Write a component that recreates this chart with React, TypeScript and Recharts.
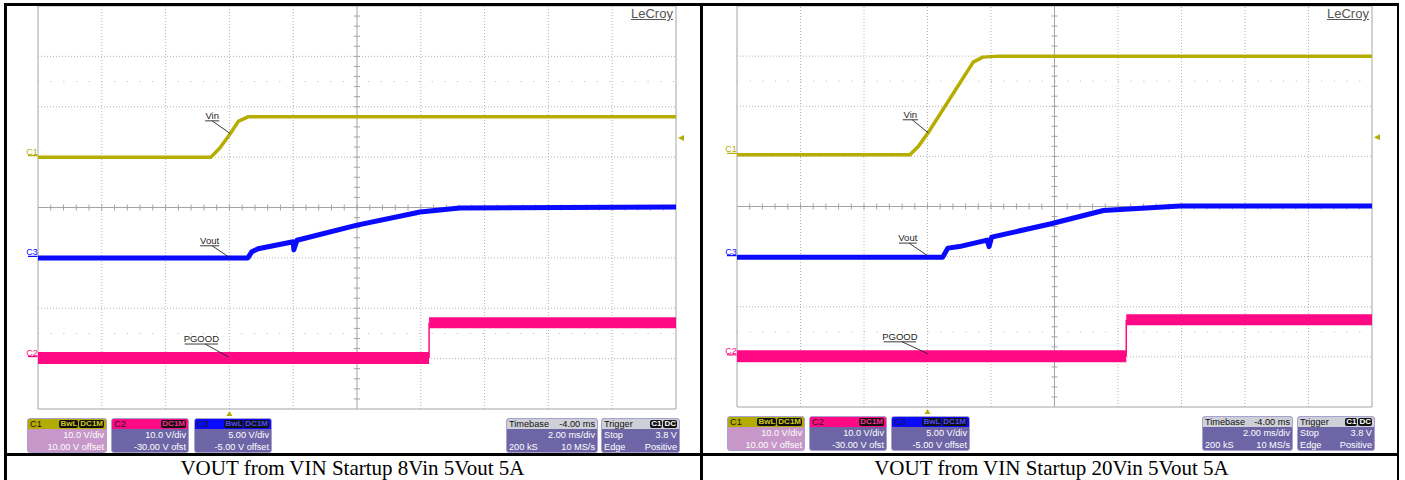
import React from 'react';
import { LineChart, Line, XAxis, YAxis, ReferenceLine, ReferenceDot } from 'recharts';

// ---------- DATA (in screen divisions: time 0..10, volts -4..4) ----------
const TIME_DIVS = [0, 1, 2, 3, 4, 5, 6, 7, 8, 9, 10];
const VOLT_DIVS = [-4, -3, -2, -1, 0, 1, 2, 3, 4];

// Panel A: 8Vin
const aVinT = [0, 2.71, 2.85, 3.01, 3.14, 3.29, 4.5, 10];
const aVinV = [1.0, 1.0, 1.18, 1.46, 1.71, 1.8, 1.8, 1.8];
const aVoutT = [0, 3.29, 3.35, 3.45, 4.0, 4.01, 4.06, 5.0, 5.99, 6.61, 10];
const aVoutV = [-1.0, -1.0, -0.88, -0.82, -0.68, -0.84, -0.65, -0.35, -0.09, -0.01, 0.01];
const aPgoodT = [0, 6.13, 10];
const aPgoodV = [-2.99, -2.29];

// Panel B: 20Vin
const bVinT = [0, 2.72, 2.85, 3.01, 3.72, 3.87, 4.14, 10];
const bVinV = [1.03, 1.03, 1.19, 1.47, 2.88, 2.98, 3.0, 3.0];
const bVoutT = [0, 3.24, 3.32, 3.5, 3.94, 3.97, 4.01, 4.93, 5.77, 6.98, 10];
const bVoutV = [-1.01, -1.01, -0.83, -0.8, -0.67, -0.8, -0.61, -0.35, -0.08, 0.01, 0.01];
const bPgoodT = [0, 6.13, 10];
const bPgoodV = [-2.99, -2.26];

const CHANNEL_OFFSETS_A = { C1: 1.0, C3: -1.0, C2: -2.99 };
const CHANNEL_OFFSETS_B = { C1: 1.03, C3: -1.01, C2: -2.99 };
const TRIGGER_TIME = 3;
const TRIGGER_LEVEL = 1.38;

const captions = ['VOUT from VIN Startup 8Vin 5Vout 5A', 'VOUT from VIN Startup 20Vin 5Vout 5A'];

const chanBoxes = [
  { name: 'C1', head: '#b3ab00', body: '#c697c8', badges: ['BwL', 'DC1M'], badgeColor: '#d4cc10', r1: '10.0 V/div', r2: '10.00 V offset' },
  { name: 'C2', head: '#ff0a84', body: '#6d65a6', badges: ['DC1M'], badgeColor: '#ff2a94', r1: '10.0 V/div', r2: '-30.00 V ofst' },
  { name: 'C3', head: '#0a0aff', body: '#6d65a6', badges: ['BwL', 'DC1M'], badgeColor: '#4a4aff', r1: '5.00 V/div', r2: '-5.00 V offset' },
];

// ---------- helpers ----------
type Pt = { t: number; v: number };
const zip = (ts: number[], vs: number[]): Pt[] => ts.map((t, i) => ({ t, v: vs[i] }));

const YELLOW = '#b5ad00';
const BLUE = '#0a0aff';
const PINK = '#ff0a84';
const GRID = '#b4b4b4';
const FRAME = '#a4a4a4';

type Annot = { text: string; ux1: number; ux2: number; uy: number; lx1: number; lx2: number; ly2: number };

const annA: Annot[] = [
  { text: 'Vin', ux1: 2.62, ux2: 2.84, uy: 1.72, lx1: 2.73, lx2: 3.01, ly2: 1.47 },
  { text: 'Vout', ux1: 2.54, ux2: 2.84, uy: -0.76, lx1: 2.73, lx2: 3.01, ly2: -1.0 },
  { text: 'PGOOD', ux1: 2.3, ux2: 2.82, uy: -2.71, lx1: 2.62, lx2: 2.99, ly2: -2.97 },
];
const annB: Annot[] = [
  { text: 'Vin', ux1: 2.61, ux2: 2.85, uy: 1.73, lx1: 2.76, lx2: 3.01, ly2: 1.47 },
  { text: 'Vout', ux1: 2.55, ux2: 2.83, uy: -0.73, lx1: 2.71, lx2: 3.01, ly2: -0.99 },
  { text: 'PGOOD', ux1: 2.31, ux2: 2.82, uy: -2.7, lx1: 2.6, lx2: 3.01, ly2: -2.94 },
];

type ScopeProps = {
  width: number;
  height: number;
  margin: { top: number; left: number; right: number; bottom: number };
  vin: Pt[];
  vout: Pt[];
  pgT: number[];
  pgV: number[];
  offsets: { C1: number; C2: number; C3: number };
  ann: Annot[];
};

const minorX = Array.from({ length: 49 }, (_, i) => (i + 1) * 0.2);
const minorY = Array.from({ length: 39 }, (_, i) => -4 + (i + 1) * 0.2);

function Scope({ width, height, margin, vin, vout, pgT, pgV, offsets, ann }: ScopeProps) {
  const plotH = height - margin.top - margin.bottom;
  const plotW = width - margin.left - margin.right;
  const pxY = 8 / plotH; // div per px
  const pxX = 10 / plotW;
  const pgLow = [{ t: pgT[0], v: pgV[0] }, { t: pgT[1], v: pgV[0] }];
  const pgHigh = [{ t: pgT[1], v: pgV[1] }, { t: pgT[2], v: pgV[1] }];
  const pgStep = [{ t: pgT[1], v: pgV[0] }, { t: pgT[1], v: pgV[1] }];
  const chan = [
    { n: 'C1', c: YELLOW, v: offsets.C1 },
    { n: 'C3', c: BLUE, v: offsets.C3 },
    { n: 'C2', c: PINK, v: offsets.C2 },
  ];
  return (
    <LineChart width={width} height={height} margin={margin}>
      <XAxis type="number" dataKey="t" domain={[0, 10]} ticks={TIME_DIVS} hide allowDataOverflow />
      <YAxis type="number" domain={[-4, 4]} ticks={VOLT_DIVS} hide allowDataOverflow />
      {TIME_DIVS.filter((d) => d > 0 && d < 10 && d !== 5).map((d) => (
        <ReferenceLine key={'gx' + d} x={d} stroke={GRID} strokeDasharray="1 2" />
      ))}
      {VOLT_DIVS.filter((d) => d > -4 && d < 4 && d !== 0).map((d) => (
        <ReferenceLine key={'gy' + d} y={d} stroke={GRID} strokeDasharray="1 2" />
      ))}
      <ReferenceLine y={2.5} stroke={GRID} strokeDasharray="1 11.7" />
      <ReferenceLine y={-2.5} stroke={GRID} strokeDasharray="1 11.7" />
      <ReferenceLine x={5} stroke={FRAME} />
      <ReferenceLine y={0} stroke={FRAME} />
      {minorX.map((t) => (
        <ReferenceLine key={'tx' + t} segment={[{ x: t, y: -3 * pxY }, { x: t, y: 3 * pxY }]} stroke={FRAME} />
      ))}
      {minorY.map((v) => (
        <ReferenceLine key={'ty' + v} segment={[{ x: 5 - 3 * pxX, y: v }, { x: 5 + 3 * pxX, y: v }]} stroke={FRAME} />
      ))}
      <ReferenceLine x={0} stroke={FRAME} />
      <ReferenceLine x={10} stroke={FRAME} />
      <ReferenceLine y={4} stroke={FRAME} />
      <ReferenceLine y={-4} stroke={FRAME} />

      <Line data={pgLow} dataKey="v" stroke={PINK} strokeWidth={12} dot={false} isAnimationActive={false} />
      <Line data={pgHigh} dataKey="v" stroke={PINK} strokeWidth={11} dot={false} isAnimationActive={false} />
      <Line data={pgStep} dataKey="v" stroke={PINK} strokeWidth={1.5} dot={false} isAnimationActive={false} />
      <Line data={vout} dataKey="v" stroke={BLUE} strokeWidth={5} dot={false} isAnimationActive={false} strokeLinejoin="round" />
      <Line data={vin} dataKey="v" stroke={YELLOW} strokeWidth={3.5} dot={false} isAnimationActive={false} strokeLinejoin="round" />

      {ann.map((a) => (
        <ReferenceLine key={'u' + a.text} segment={[{ x: a.ux1, y: a.uy }, { x: a.ux2, y: a.uy }]} stroke="#222" strokeWidth={0.9} />
      ))}
      {ann.map((a) => (
        <ReferenceLine key={'l' + a.text} segment={[{ x: a.lx1, y: a.uy }, { x: a.lx2, y: a.ly2 }]} stroke="#222" strokeWidth={0.9} />
      ))}
      {ann.map((a) => (
        <ReferenceDot
          key={'t' + a.text}
          x={(a.ux1 + a.ux2) / 2}
          y={a.uy}
          ifOverflow="visible"
          shape={(p: any) => (
            <text x={p.cx} y={p.cy - 2} textAnchor="middle" fontSize={9.5} fontFamily="Liberation Sans, Arial, sans-serif" fill="#222">
              {a.text}
            </text>
          )}
        />
      ))}
      {chan.map((c) => (
        <ReferenceLine
          key={'cm' + c.n}
          segment={[{ x: -10 * pxX, y: c.v + 1.5 * pxY }, { x: -0.5 * pxX, y: c.v + 1.5 * pxY }]}
          stroke={c.c}
          strokeWidth={1.2}
          ifOverflow="visible"
        />
      ))}
      {chan.map((c) => (
        <ReferenceDot
          key={'cl' + c.n}
          x={-6 * pxX}
          y={c.v}
          ifOverflow="visible"
          shape={(p: any) => (
            <text x={p.cx} y={p.cy - 2.5} textAnchor="middle" fontSize={9} fontFamily="Liberation Sans, Arial, sans-serif" fill={c.c}>
              {c.n}
            </text>
          )}
        />
      ))}
      <ReferenceDot
        x={TRIGGER_TIME}
        y={-4}
        ifOverflow="visible"
        shape={(p: any) => (
          <polygon points={`${p.cx - 3},${p.cy + 7} ${p.cx + 3},${p.cy + 7} ${p.cx},${p.cy + 2}`} fill={YELLOW} />
        )}
      />
      <ReferenceDot
        x={10}
        y={TRIGGER_LEVEL}
        ifOverflow="visible"
        shape={(p: any) => (
          <polygon points={`${p.cx + 8},${p.cy - 3} ${p.cx + 8},${p.cy + 3} ${p.cx + 2},${p.cy}`} fill={YELLOW} />
        )}
      />
    </LineChart>
  );
}

const boxFont = 'Liberation Sans, Arial, sans-serif';

function Badge({ text, color }: { text: string; color: string }) {
  return (
    <span style={{ background: '#111', color, fontSize: 8, lineHeight: '8px', padding: '0 1px', borderRadius: 2, marginLeft: 1, fontWeight: 700 }}>
      {text}
    </span>
  );
}

function InfoBox({ x, y, w, head, body, title, headRight, badges, badgeColor, rows, titleColor }: any) {
  return (
    <div
      style={{
        position: 'absolute', left: x, top: y, width: w, height: 35, boxSizing: 'border-box',
        border: '1px solid #a8a2d0', borderRadius: 3, background: body, overflow: 'hidden',
        fontFamily: boxFont, fontSize: 9.2, color: '#fff', whiteSpace: 'nowrap',
      }}
    >
      <div style={{ height: 10, background: head, display: 'flex', justifyContent: 'space-between', alignItems: 'center', padding: '0 2px', color: titleColor, lineHeight: '10px' }}>
        <span>{title}</span>
        <span style={{ display: 'flex' }}>
          {headRight ? <span>{headRight}</span> : null}
          {badges ? badges.map((b: string) => <Badge key={b} text={b} color={badgeColor} />) : null}
        </span>
      </div>
      {rows.map((r: string[], i: number) => (
        <div key={i} style={{ display: 'flex', justifyContent: 'space-between', padding: '0 2px', lineHeight: '12px', height: 12 }}>
          <span>{r[0]}</span>
          <span>{r[1]}</span>
        </div>
      ))}
    </div>
  );
}

function Panel({ ox, boxY, plotRight, chanXs, chanWs, tbX, tbW, trX, trW, caption, cellW }: any) {
  return (
    <>
      {chanBoxes.map((c, i) => (
        <InfoBox key={c.name} x={ox + chanXs[i]} y={boxY} w={chanWs[i]} head={c.head} body={c.body} title={c.name}
          titleColor="#1a1a1a" badges={c.badges} badgeColor={c.badgeColor} rows={[['', c.r1], ['', c.r2]]} />
      ))}
      <InfoBox x={ox + tbX} y={boxY} w={tbW} head="#cfcfd8" body="#6d65a6" title="Timebase" headRight="-4.00 ms"
        titleColor="#111" rows={[['', '2.00 ms/div'], ['200 kS', '10 MS/s']]} />
      <InfoBox x={ox + trX} y={boxY} w={trW} head="#cfcfd8" body="#6d65a6" title="Trigger" titleColor="#111"
        badges={['C1', 'DC']} badgeColor="#fff" rows={[['Stop', '3.8 V'], ['Edge', 'Positive']]} />
      <div style={{ position: 'absolute', left: ox + plotRight - 45, top: 6, fontFamily: boxFont, fontSize: 13, color: '#555', textDecoration: 'underline' }}>
        LeCroy
      </div>
      <div style={{ position: 'absolute', left: ox + 4, top: 456, width: cellW, height: 24, lineHeight: '24px', textAlign: 'center', fontFamily: 'Liberation Serif, Times New Roman, serif', fontSize: 21, color: '#000', whiteSpace: 'nowrap' }}>
        {caption}
      </div>
    </>
  );
}

export default function App() {
  const vinA = zip(aVinT, aVinV);
  const voutA = zip(aVoutT, aVoutV);
  const vinB = zip(bVinT, bVinV);
  const voutB = zip(bVoutT, bVoutV);
  return (
    <div style={{ position: 'relative', width: 1405, height: 480, background: '#fff', overflow: 'hidden' }}>
      <style>{'body{margin:0}'}</style>
      <div style={{ position: 'absolute', left: 0, top: 0 }}>
        <Scope width={702} height={420} margin={{ top: 6, left: 38, right: 26, bottom: 11 }}
          vin={vinA} vout={voutA} pgT={aPgoodT} pgV={aPgoodV} offsets={CHANNEL_OFFSETS_A} ann={annA} />
      </div>
      <div style={{ position: 'absolute', left: 700, top: 0 }}>
        <Scope width={700} height={420} margin={{ top: 6, left: 37, right: 28, bottom: 13 }}
          vin={vinB} vout={voutB} pgT={bPgoodT} pgV={bPgoodV} offsets={CHANNEL_OFFSETS_B} ann={annB} />
      </div>
      <Panel ox={0} boxY={418} plotRight={676} chanXs={[27, 111, 194]} chanWs={[80, 78, 78]} tbX={506} tbW={92} trX={601} trW={79}
        caption={captions[0]} cellW={697} />
      <Panel ox={700} boxY={416} plotRight={672} chanXs={[27, 109, 191]} chanWs={[78, 78, 79]} tbX={502} tbW={91} trX={597} trW={78}
        caption={captions[1]} cellW={695} />
      {/* table borders */}
      <div style={{ position: 'absolute', left: 4, top: 3, width: 1395, height: 3, background: '#000' }} />
      <div style={{ position: 'absolute', left: 4, top: 3, width: 3, height: 477, background: '#000' }} />
      <div style={{ position: 'absolute', left: 700, top: 3, width: 3, height: 477, background: '#000' }} />
      <div style={{ position: 'absolute', left: 1397, top: 3, width: 2, height: 477, background: '#000' }} />
      <div style={{ position: 'absolute', left: 4, top: 453, width: 1395, height: 3, background: '#000' }} />
    </div>
  );
}
